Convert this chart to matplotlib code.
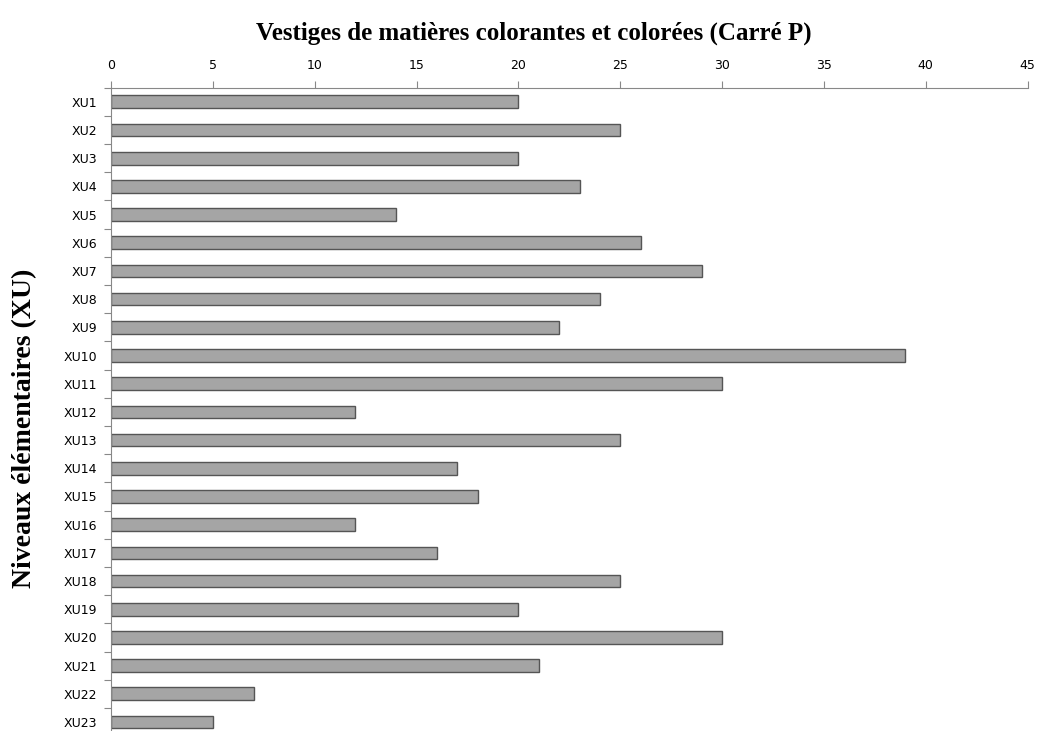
import matplotlib
matplotlib.use("Agg")
import matplotlib.pyplot as plt

# niveaux élémentaires et nombre de vestiges
categories = ["XU%d" % i for i in range(1, 24)]
values = [20, 25, 20, 23, 14, 26, 29, 24, 22, 39, 30, 12, 25, 17, 18, 12, 16, 25, 20, 30, 21, 7, 5]
x_ticks = [0, 5, 10, 15, 20, 25, 30, 35, 40, 45]

fig = plt.figure(figsize=(10.38, 7.31), dpi=100)
ax = fig.add_axes([0.107, -0.007, 0.883, 0.887])

pos = list(range(len(categories)))
ax.barh(pos, values, height=0.45, color="#a5a5a5", edgecolor="#555555", linewidth=1.0)

ax.set_ylim(len(categories) - 0.5, -0.5)
ax.set_xlim(0, 45)
ax.set_xticks(x_ticks)
ax.xaxis.tick_top()
ax.tick_params(axis="x", direction="out", length=5, color="#888888", labelsize=9, pad=6)

# séparateurs entre catégories
ax.set_yticks([p + 0.5 for p in pos[:-1]] + [-0.5], minor=False)
ax.set_yticklabels([])
ax.set_yticks(pos, minor=True)
ax.set_yticklabels(categories, minor=True, fontsize=9)
ax.tick_params(axis="y", which="major", direction="out", length=5, color="#888888")
ax.tick_params(axis="y", which="minor", length=0, pad=10)

for s in ["right", "bottom"]:
    ax.spines[s].set_visible(False)
for s in ["top", "left"]:
    ax.spines[s].set_color("#888888")

fig.text(0.514, 0.955, "Vestiges de matières colorantes et colorées (Carré P)",
         ha="center", va="center", fontsize=18, fontweight="bold", family="Liberation Serif")
fig.text(0.024, 0.414, "Niveaux élémentaires (XU)", rotation=90, ha="center", va="center",
         fontsize=20, fontweight="bold", family="Liberation Serif")

fig.savefig("out.png", dpi=100)
